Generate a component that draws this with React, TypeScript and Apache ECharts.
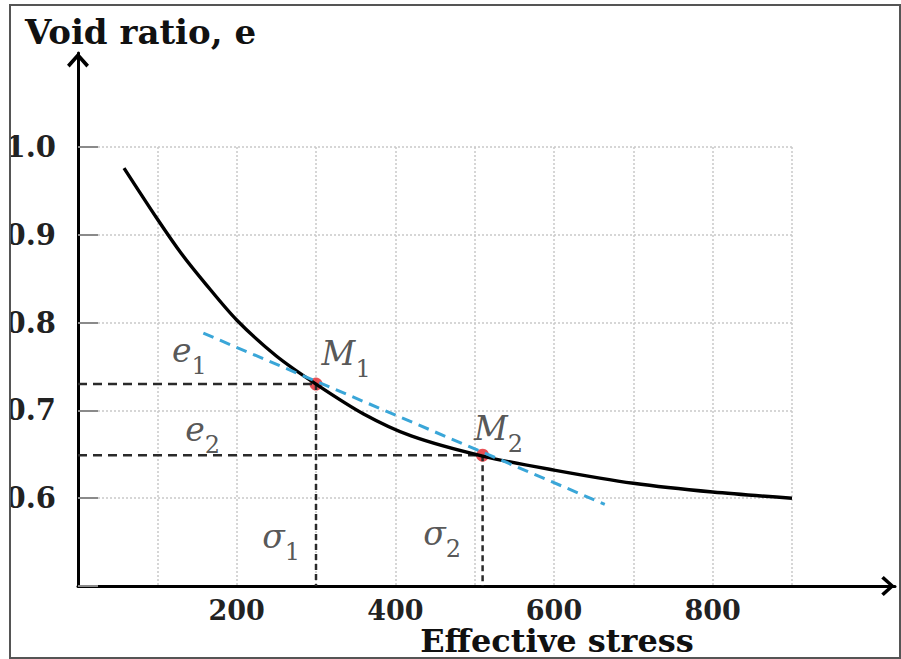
import React, { useEffect, useRef } from "react";
import * as echarts from "echarts";

// ---- data ----
const curveStress = [58, 100, 130, 160, 200, 250, 300, 360, 420, 510, 600, 700, 800, 900];
const curveVoid = [0.976, 0.918, 0.879, 0.845, 0.803, 0.762, 0.73, 0.696, 0.671, 0.648, 0.632, 0.617, 0.607, 0.6];

const tangentStress = [158, 664];
const tangentVoid = [0.788, 0.593];

const pointStress = [300, 510]; // sigma1, sigma2
const pointVoid = [0.73, 0.649]; // e1, e2

const xTickLabels = [200, 400, 600, 800];
const yTickLabels = [0.6, 0.7, 0.8, 0.9, 1.0];

const annotationTexts = ["{i|e}{s|1}", "{i|e}{s|2}", "{i|M}{s|1}", "{i|M}{s|2}", "{i|σ}{s|1}", "{i|σ}{s|2}"];
const annotationStress = [140.5, 157, 338, 530, 256, 459];
const annotationVoid = [0.7614, 0.6725, 0.759, 0.6736, 0.5505, 0.554];

const xTitle = "Effective stress";
const yTitle = "Void ratio, e";

const chevron = "path://M10,0 L20,11 L17.6,13.5 L10,5 L2.4,13.5 L0,11 Z";

export default function App() {
  const ref = useRef<HTMLDivElement>(null);
  useEffect(() => {
    if (!ref.current) return;
    const chart = echarts.init(ref.current, null, { renderer: "svg" });
    const serifBold = "DejaVu Serif";
    const gridLine = { show: true, lineStyle: { color: "#c9c9c9", width: 1.5, type: [2, 2] as any } };

    const pairs = (xs: number[], ys: number[]) => xs.map((x, i) => [x, ys[i]]);

    chart.setOption({
      animation: false,
      backgroundColor: "#ffffff",
      grid: [
        { left: 78, right: 109, top: 147, bottom: 73, outerBoundsMode: "none" },
        { left: 78, right: 6, top: 53, bottom: 73, outerBoundsMode: "none" },
      ],
      xAxis: [
        {
          type: "value",
          gridIndex: 0,
          min: 0,
          max: 900,
          interval: 100,
          axisLine: { show: false },
          axisTick: { show: false },
          splitLine: gridLine,
          axisLabel: {
            margin: 11,
            fontFamily: serifBold,
            fontWeight: "bold",
            fontSize: 27,
            lineHeight: 27,
            color: "#222",
            formatter: (v: number) => (xTickLabels.includes(v) ? String(v) : ""),
          },
        },
        {
          type: "value",
          gridIndex: 1,
          min: 0,
          max: 1,
          axisLine: {
            show: true,
            lineStyle: { color: "#000", width: 3 },
            symbol: ["none", chevron],
            symbolSize: [20, 15],
            symbolOffset: [0, -7],
          },
          axisTick: { show: false },
          axisLabel: { show: false },
          splitLine: { show: false },
        },
      ],
      yAxis: [
        {
          type: "value",
          gridIndex: 0,
          min: 0.5,
          max: 1.0,
          interval: 0.1,
          axisLine: { show: false },
          axisTick: { show: true, inside: true, length: 20, lineStyle: { color: "#8a8a8a", width: 2 } },
          splitLine: gridLine,
          axisLabel: {
            margin: 22,
            fontFamily: serifBold,
            fontWeight: "bold",
            fontSize: 29,
            color: "#222",
            formatter: (v: number) => {
              const r = Math.round(v * 10) / 10;
              return yTickLabels.includes(r) ? r.toFixed(1) : "";
            },
          },
        },
        {
          type: "value",
          gridIndex: 1,
          min: 0,
          max: 1,
          axisLine: {
            show: true,
            onZero: false,
            lineStyle: { color: "#000", width: 3 },
            symbol: ["none", chevron],
            symbolSize: [22, 15],
            symbolOffset: [0, -7],
          },
          axisTick: { show: false },
          axisLabel: { show: false },
          splitLine: { show: false },
        },
      ],
      series: [
        {
          type: "scatter",
          name: "points",
          xAxisIndex: 0,
          yAxisIndex: 0,
          symbolSize: 13,
          itemStyle: { color: "#e3242b" },
          data: pairs(pointStress, pointVoid),
          z: 1,
        },
        {
          type: "line",
          name: "e1 guide",
          showSymbol: false,
          lineStyle: { color: "#2a2a2a", width: 2.5, type: [9, 6] },
          data: [
            [0, pointVoid[0]],
            [pointStress[0], pointVoid[0]],
          ],
          z: 2,
        },
        {
          type: "line",
          name: "sigma1 guide",
          showSymbol: false,
          lineStyle: { color: "#2a2a2a", width: 2.5, type: [6, 4] },
          data: [
            [pointStress[0], pointVoid[0]],
            [pointStress[0], 0.5],
          ],
          z: 2,
        },
        {
          type: "line",
          name: "e2 guide",
          showSymbol: false,
          lineStyle: { color: "#2a2a2a", width: 2.5, type: [9, 6] },
          data: [
            [0, pointVoid[1]],
            [pointStress[1], pointVoid[1]],
          ],
          z: 2,
        },
        {
          type: "line",
          name: "sigma2 guide",
          showSymbol: false,
          lineStyle: { color: "#2a2a2a", width: 2.5, type: [6, 4] },
          data: [
            [pointStress[1], pointVoid[1]],
            [pointStress[1], 0.5],
          ],
          z: 2,
        },
        {
          type: "line",
          name: "curve",
          showSymbol: false,
          smooth: 0.3,
          lineStyle: { color: "#000", width: 3.4 },
          data: pairs(curveStress, curveVoid),
          z: 3,
        },
        {
          type: "line",
          name: "tangent",
          showSymbol: false,
          lineStyle: { color: "#3aa6d8", width: 3, type: [11, 7] },
          data: pairs(tangentStress, tangentVoid),
          z: 4,
        },
        {
          type: "scatter",
          name: "annotations",
          symbolSize: 0,
          silent: true,
          z: 5,
          label: {
            show: true,
            position: "inside",
            formatter: (p: any) => annotationTexts[p.dataIndex],
            rich: {
              i: {
                fontFamily: "DejaVu Serif",
                fontStyle: "italic",
                fontSize: 33,
                lineHeight: 44,
                verticalAlign: "top",
                color: "#2b2b2b",
              },
              s: {
                fontFamily: "DejaVu Serif",
                fontSize: 24,
                lineHeight: 24,
                verticalAlign: "bottom",
                color: "#2b2b2b",
              },
            },
          },
          data: pairs(annotationStress, annotationVoid),
        },
      ],
      graphic: [
        {
          type: "text",
          x: 25,
          y: 32,
          style: {
            text: yTitle,
            fontFamily: serifBold,
            fontWeight: "bold",
            fontSize: 34,
            fill: "#111",
            verticalAlign: "middle",
            align: "left",
          },
        },
        {
          type: "text",
          x: 557,
          y: 641,
          style: {
            text: xTitle,
            fontFamily: serifBold,
            fontWeight: "bold",
            fontSize: 32,
            fill: "#111",
            verticalAlign: "middle",
            align: "center",
          },
        },
        {
          type: "rect",
          z: 100,
          shape: { x: 0, y: 0, width: 9, height: 659 },
          style: { fill: "#ffffff" },
        },
        {
          type: "rect",
          z: 101,
          shape: { x: 10, y: 5, width: 890, height: 653 },
          style: { fill: "none", stroke: "#555", lineWidth: 2 },
        },
      ],
    });
    return () => chart.dispose();
  }, []);
  return (
    <div
      ref={ref}
      style={{ position: "fixed", left: 0, top: 0, width: 901, height: 659, background: "#fff" }}
    />
  );
}
